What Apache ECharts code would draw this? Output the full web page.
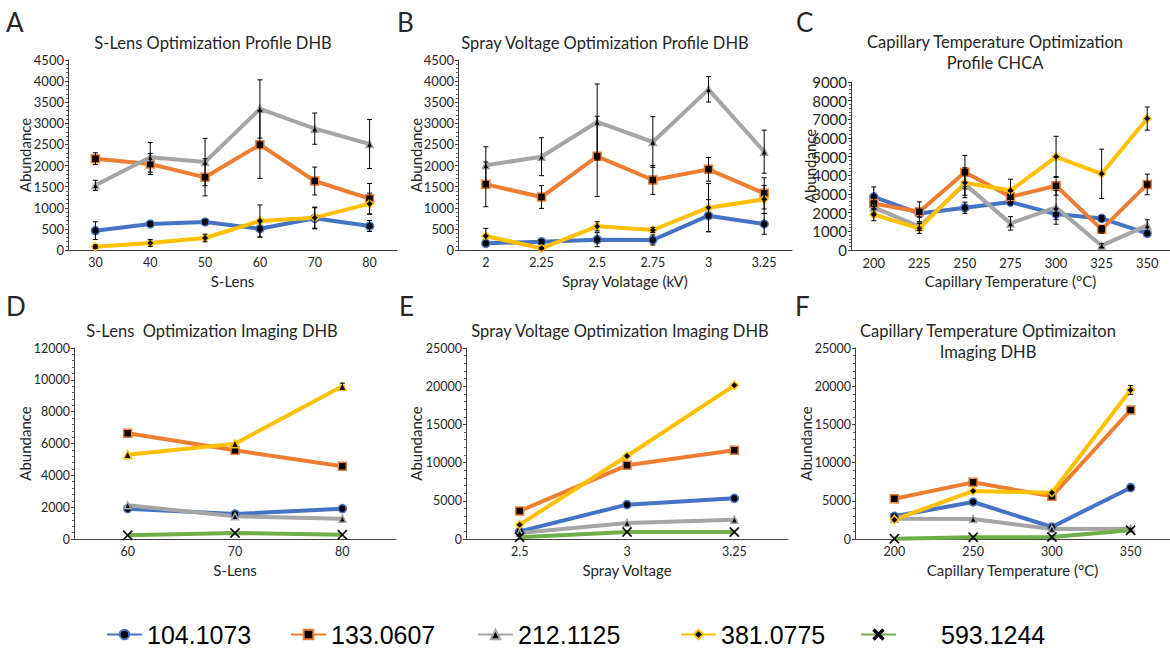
<!DOCTYPE html>
<html><head><meta charset="utf-8">
<script src="https://cdn.jsdelivr.net/npm/echarts@6/dist/echarts.min.js"></script>
<style>html,body{margin:0;padding:0;background:#fff}#c{width:1170px;height:649px}</style>
</head><body><div id="c"></div>
<script>
const seriesNames = ['104.1073','133.0607','212.1125','381.0775','593.1244'];
const seriesColors = ['#4472C4','#ED7D31','#A5A5A5','#FFC000','#70AD47'];

// Panel A: S-Lens Optimization Profile DHB
const aCats = ['30','40','50','60','70','80'];
const aBlue = [458,616,663,505,750,568];
const aBlueErr = [210,50,50,200,250,130];
const aOrange = [2163,2037,1721,2495,1634,1216];
const aOrangeErr = [140,250,440,800,330,360];
const aGrey = [1532,2195,2084,3340,2874,2510];
const aGreyErr = [120,350,560,690,370,580];
const aYellow = [79,166,284,687,766,1097];
const aYellowErr = [40,80,90,380,250,250];

// Panel B: Spray Voltage Optimization Profile DHB
const bCats = ['2','2.25','2.5','2.75','3','3.25'];
const bBlue = [158,197,245,237,813,616];
const bBlueErr = [50,50,166,120,380,245];
const bOrange = [1555,1255,2218,1658,1910,1342];
const bOrangeErr = [530,270,950,340,280,370];
const bGrey = [2005,2210,3032,2558,3805,2329];
const bGreyErr = [440,450,900,600,300,510];
const bYellow = [332,40,560,474,1003,1200];
const bYellowErr = [180,20,110,60,570,330];

// Panel C: Capillary Temperature Optimization Profile CHCA
const cCats = ['200','225','250','275','300','325','350'];
const cBlue = [2852,1960,2264,2567,1925,1693,891];
const cBlueErr = [530,200,300,150,300,150,100];
const cOrange = [2496,2050,4171,2852,3440,1105,3512];
const cOrangeErr = [300,530,900,300,500,200,550];
const cGrey = [2282,1248,3529,1426,2282,232,1319];
const cGreyErr = [300,200,600,360,900,100,300];
const cYellow = [1889,1159,3600,3190,4991,4082,7041];
const cYellowErr = [320,270,800,600,1100,1320,620];

// Panel D: S-Lens Optimization Imaging DHB
const dCats = ['60','70','80'];
const dBlue = [1906,1571,1906];
const dOrange = [6639,5571,4565];
const dGrey = [2115,1424,1277];
const dYellow = [5298,5990,9592];
const dYellowErr = [0,0,200];
const dGreen = [230,377,272];

// Panel E: Spray Voltage Optimization Imaging DHB
const eCats = ['2.5','3','3.25'];
const eBlue = [1003,4494,5323];
const eOrange = [3665,9642,11606];
const eGrey = [785,2094,2531];
const eYellow = [1876,10864,20113];
const eGreen = [218,916,916];

// Panel F: Capillary Temperature Optimizaiton Imaging DHB
const fCats = ['200','250','300','350'];
const fBlue = [2967,4843,1571,6719];
const fOrange = [5279,7417,5585,16885];
const fGrey = [2661,2618,1309,1352];
const fYellow = [2531,6283,6065,19503];
const fYellowErr = [0,0,0,600];
const fGreen = [40,218,262,1134];

const xPath = 'path://M1,0L5,4L9,0L10,1L6,5L10,9L9,10L5,6L1,10L0,9L4,5L0,1Z';
const symbols = ['circle','rect','triangle','diamond',xPath];
const symbolSizes = [8,8,7,8,10];

const FONT = 'Lato';
const TXT = '#262626';

const panels = [
  {cats:aCats, vals:[aBlue,aOrange,aGrey,aYellow], errs:[aBlueErr,aOrangeErr,aGreyErr,aYellowErr], max:4500, interval:500,
   grid:{left:68, top:60, width:329, height:190}, xName:'S-Lens', yGap:36, yFs:13, xFs:12.5},
  {cats:bCats, vals:[bBlue,bOrange,bGrey,bYellow], errs:[bBlueErr,bOrangeErr,bGreyErr,bYellowErr], max:4500, interval:500,
   grid:{left:458, top:60, width:334, height:190}, xName:'Spray Volatage (kV)', yGap:35, yFs:13, xFs:12.5},
  {cats:cCats, vals:[cBlue,cOrange,cGrey,cYellow], errs:[cBlueErr,cOrangeErr,cGreyErr,cYellowErr], max:9000, interval:1000,
   grid:{left:851, top:82, width:325, height:168}, xName:'Capillary Temperature (°C)', yGap:34, yFs:15, xFs:13},
  {cats:dCats, vals:[dBlue,dOrange,dGrey,dYellow,dGreen], errs:[null,null,null,dYellowErr,null], max:12000, interval:2000,
   grid:{left:74, top:348, width:322, height:191}, xName:'S-Lens', yGap:42, symOverride:{3:'triangle'}, yFs:12.5, xFs:12.5},
  {cats:eCats, vals:[eBlue,eOrange,eGrey,eYellow,eGreen], errs:[null,null,null,null,null], max:25000, interval:5000,
   grid:{left:466, top:348, width:322, height:191}, xName:'Spray Voltage', yGap:43, yFs:12.5, xFs:12.5},
  {cats:fCats, vals:[fBlue,fOrange,fGrey,fYellow,fGreen], errs:[null,null,null,fYellowErr,null], max:25000, interval:5000,
   grid:{left:855, top:348, width:324, height:191}, xName:'Capillary Temperature (°C)', yGap:42, yFs:12.5, xFs:12.5}
];

function errItem(params, api){
  const i = api.value(0), lo = api.value(1), hi = api.value(2);
  if (!(hi - lo > 0)) return null;
  const p1 = api.coord([i, hi]), p2 = api.coord([i, Math.max(lo,0)]);
  const w = 2.5;
  const st = {stroke:'#000', lineWidth:1};
  return {type:'group', children:[
    {type:'line', shape:{x1:p1[0],y1:p1[1],x2:p2[0],y2:p2[1]}, style:st},
    {type:'line', shape:{x1:p1[0]-w,y1:p1[1],x2:p1[0]+w,y2:p1[1]}, style:st},
    {type:'line', shape:{x1:p2[0]-w,y1:p2[1],x2:p2[0]+w,y2:p2[1]}, style:st}
  ]};
}

const grids = [], xAxes = [], yAxes = [], lineSeries = [], errSeries = [];
panels.forEach((p, g) => {
  grids.push(Object.assign({}, p.grid));
  xAxes.push({type:'category', gridIndex:g, data:p.cats, boundaryGap:true,
    axisLine:{lineStyle:{color:'#404040', width:1}}, axisTick:{show:false},
    axisLabel:{color:TXT, fontSize:p.xFs, fontFamily:FONT, margin:6},
    name:p.xName, nameLocation:'middle', nameGap:23,
    nameTextStyle:{color:TXT, fontSize:15, fontFamily:FONT}});
  yAxes.push({type:'value', gridIndex:g, min:0, max:p.max, interval:p.interval,
    axisLine:{show:true, lineStyle:{color:'#404040', width:1}},
    axisTick:{show:true, length:3, lineStyle:{color:'#404040'}},
    minorTick:{show:true, splitNumber:5, length:2, lineStyle:{color:'#606060'}},
    splitLine:{show:false},
    axisLabel:{color:TXT, fontSize:p.yFs, fontFamily:FONT, margin:4, formatter:(v)=>String(v)},
    name:'Abundance', nameLocation:'middle', nameGap:p.yGap, nameMoveOverlap:false,
    nameTextStyle:{color:TXT, fontSize:15, fontFamily:FONT}});
  p.vals.forEach((v, k) => {
    const isX = k === 4;
    const sym = (p.symOverride && p.symOverride[k]) || symbols[k];
    lineSeries.push({type:'line', name:seriesNames[k], xAxisIndex:g, yAxisIndex:g, data:v,
      symbol:sym, symbolSize:symbolSizes[k], showAllSymbol:true,
      lineStyle:{width:4, color:seriesColors[k]},
      itemStyle:{color:'#000', borderColor:isX ? '#000' : seriesColors[k], borderWidth:isX ? 0.3 : 1.5},
      emphasis:{disabled:true}, z:2});
    const e = p.errs[k];
    if (e) {
      errSeries.push({type:'custom', name:seriesNames[k], xAxisIndex:g, yAxisIndex:g,
        data:v.map((val,i)=>[i, val - e[i], val + e[i]]), encode:{x:0, y:[1,2]},
        renderItem:errItem, z:5, silent:true});
    }
  });
});

const legendLefts = [106, 290, 477, 680, 860];
const legends = seriesNames.map((n, k) => ({
  data:[n], left:legendLefts[k], top:621, padding:0, itemWidth:35, itemHeight:12, itemGap:0,
  textStyle:{color:'#000', fontSize:25, lineHeight:27, fontFamily:'Liberation Sans, Arial, sans-serif',
    padding: k === 4 ? [0,0,0,40] : [0,0,0,0]}
}));

function txt(text, x, y, size, align){
  return {type:'text', x:x, y:y, style:{text:text, fill:TXT, font:size+'px '+FONT, align:align||'center', verticalAlign:'middle'}};
}
const graphics = [
  txt('A', 6, 22, 26, 'left'), txt('B', 397, 22, 26, 'left'), txt('C', 796, 22, 26, 'left'),
  txt('D', 6, 306, 26, 'left'), txt('E', 399, 306, 26, 'left'), txt('F', 795, 306, 26, 'left'),
  txt('S-Lens Optimization Profile DHB', 213, 43, 16.5),
  txt('Spray Voltage Optimization Profile DHB', 605, 43, 16.5),
  txt('Capillary Temperature Optimization', 995, 42, 16.5),
  txt('Profile CHCA', 995, 63, 16.5),
  txt('S-Lens  Optimization Imaging DHB', 212, 331, 16.5),
  txt('Spray Voltage Optimization Imaging DHB', 620, 331, 16.5),
  txt('Capillary Temperature Optimizaiton', 988, 331, 16.5),
  txt('Imaging DHB', 988, 352, 16.5)
];

const chart = echarts.init(document.getElementById('c'), null, {renderer:'svg'});
chart.setOption({
  animation:false,
  backgroundColor:'#fff',
  grid:grids, xAxis:xAxes, yAxis:yAxes,
  legend:legends,
  graphic:graphics,
  series:lineSeries.concat(errSeries)
});
</script></body></html>
